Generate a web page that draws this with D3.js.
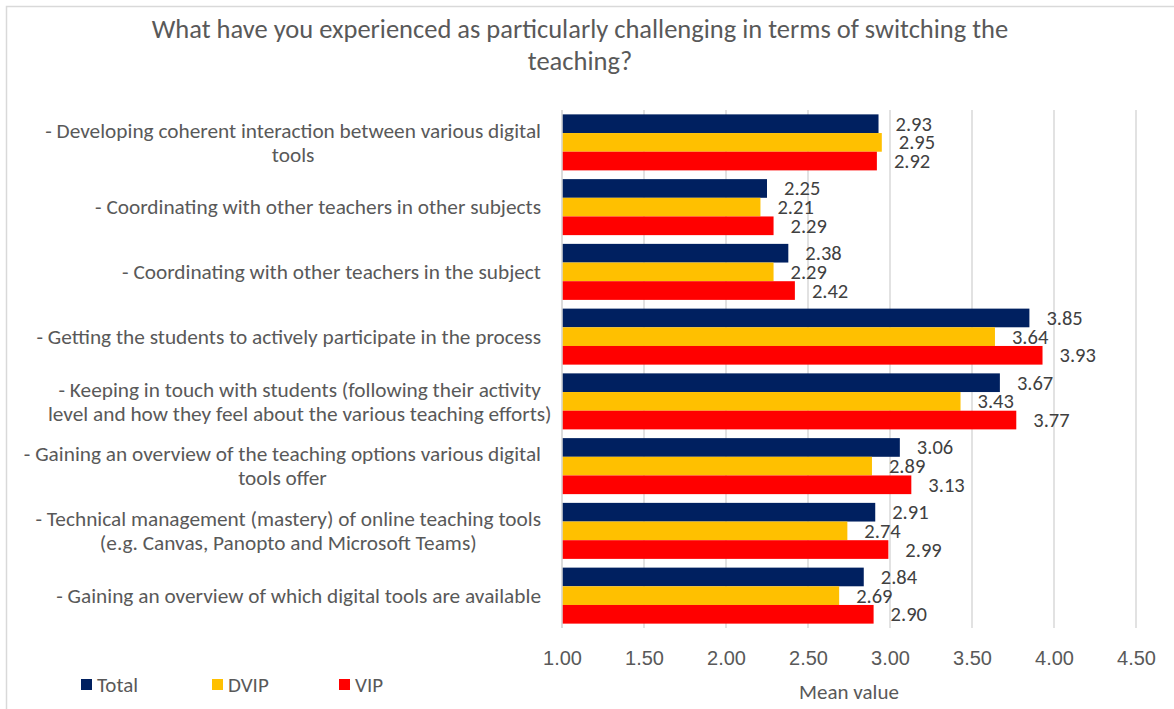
<!DOCTYPE html>
<html>
<head>
<meta charset="utf-8">
<script src="https://cdn.jsdelivr.net/npm/d3@7"></script>
<style>
  html, body { margin: 0; padding: 0; background: #fff; }
  svg { display: block; font-family: Calibri, Carlito, "Open Sans", sans-serif; }
</style>
</head>
<body>
<svg id="chart" width="1174" height="709"></svg>
<script>
const categories = [
  ["- Developing coherent interaction between various digital", "tools"],
  ["- Coordinating with other teachers in other subjects"],
  ["- Coordinating with other teachers in the subject"],
  ["- Getting the students to actively participate in the process"],
  ["- Keeping in touch with students (following their activity", "level and how they feel about the various teaching efforts)"],
  ["- Gaining an overview of the teaching options various digital", "tools offer"],
  ["- Technical management (mastery) of online teaching tools", "(e.g. Canvas, Panopto and Microsoft Teams)"],
  ["- Gaining an overview of which digital tools are available"]
];
const seriesNames = ["Total", "DVIP", "VIP"];
const totalValues = [2.93, 2.25, 2.38, 3.85, 3.67, 3.06, 2.91, 2.84];
const dvipValues  = [2.95, 2.21, 2.29, 3.64, 3.43, 2.89, 2.74, 2.69];
const vipValues   = [2.92, 2.29, 2.42, 3.93, 3.77, 3.13, 2.99, 2.90];
const tickValues = [1.00, 1.50, 2.00, 2.50, 3.00, 3.50, 4.00, 4.50];
const titleLines = ["What have you experienced as particularly challenging in terms of switching the", "teaching?"];
const xAxisTitle = "Mean value";

const colors = ["#002060", "#FFC000", "#FF0000"];
const seriesValues = [totalValues, dvipValues, vipValues];

const svg = d3.select("#chart");
const textColor = "#595959";

// chart frame
svg.append("rect").attr("x", 6.5).attr("y", 6.5).attr("width", 1200).attr("height", 750)
  .attr("fill", "#fff").attr("stroke", "#d9d9d9").attr("stroke-width", 1.5);

// title
svg.append("g").selectAll("text").data(titleLines).join("text")
  .attr("x", 580).attr("y", (d, i) => 38 + i * 32)
  .attr("text-anchor", "middle").attr("fill", textColor)
  .style("font-size", "26.5px").text(d => d);

const plot = { left: 562, right: 1136, top: 110, bottom: 628 };
const x = d3.scaleLinear().domain([1, 4.5]).range([plot.left, plot.right]);
const y0 = d3.scaleBand().domain(d3.range(categories.length)).range([plot.top, plot.bottom]).paddingInner(0.135).paddingOuter(0.0675);
const y1 = d3.scaleBand().domain(d3.range(seriesNames.length)).range([0, y0.bandwidth()]);

// gridlines
svg.append("g").selectAll("line").data(tickValues).join("line")
  .attr("x1", d => x(d)).attr("x2", d => x(d))
  .attr("y1", plot.top).attr("y2", plot.bottom)
  .attr("stroke", "#d9d9d9").attr("stroke-width", 1.5);

// x axis tick labels
const xAxis = d3.axisBottom(x).tickValues(tickValues).tickFormat(d3.format(".2f")).tickSize(0).tickPadding(0);
const gx = svg.append("g").attr("transform", `translate(0, ${plot.bottom})`).call(xAxis);
gx.select(".domain").remove();
gx.selectAll("text").attr("fill", textColor).attr("y", 37).attr("dy", 0)
  .style("font-size", "20px").style("font-family", null);

svg.append("text").attr("x", x(2.75)).attr("y", 699).attr("text-anchor", "middle")
  .attr("fill", textColor).style("font-size", "21px").text(xAxisTitle);

// bars
const data = [];
categories.forEach((c, i) => seriesValues.forEach((vals, s) => data.push({ i, s, v: vals[i] })));

svg.append("g").selectAll("rect").data(data).join("rect")
  .attr("x", x(1)).attr("y", d => y0(d.i) + y1(d.s))
  .attr("width", d => x(d.v) - x(1)).attr("height", y1.bandwidth())
  .attr("fill", d => colors[d.s]);

// data labels
svg.append("g").selectAll("text").data(data).join("text")
  .attr("x", d => x(d.v) + 17).attr("y", d => y0(d.i) + y1(d.s) + y1.bandwidth() / 2)
  .attr("dy", "0.34em").attr("fill", "#404040")
  .style("font-size", "20.5px").text(d => d3.format(".2f")(d.v));

// category labels
const catG = svg.append("g").selectAll("text").data(categories).join("text")
  .attr("text-anchor", "end").attr("fill", textColor).style("font-size", "21.3px")
  .attr("y", (d, i) => y0(i) + y0.bandwidth() / 2);
catG.each(function(lines) {
  const t = d3.select(this);
  const n = lines.length;
  lines.forEach((ln, k) => {
    t.append("tspan").attr("x", 541).attr("dy", k === 0 ? `${0.34 - (n - 1) * 0.56}em` : "1.12em").text(ln);
  });
  if (n === 2) {
    // second line is centered under the first
    const first = t.select("tspan").node();
    const w = first.getComputedTextLength();
    const center = 541 - w / 2;
    t.selectAll("tspan").filter((d, k) => k === 1)
      .attr("x", function() { return center + this.getComputedTextLength() / 2; });
  }
});

// vertical axis line at 1.00
svg.append("line").attr("x1", x(1)).attr("x2", x(1)).attr("y1", plot.top).attr("y2", plot.bottom)
  .attr("stroke", "#d9d9d9").attr("stroke-width", 1.5);

// legend
const legendX = [81, 212, 339];
const lg = svg.append("g").selectAll("g").data(seriesNames).join("g")
  .attr("transform", (d, i) => `translate(${legendX[i]}, 679)`);
lg.append("rect").attr("width", 11).attr("height", 11).attr("fill", (d, i) => colors[i]);
lg.append("text").attr("x", 16).attr("y", 5.5).attr("dy", "0.34em")
  .attr("fill", textColor).style("font-size", "21px").text(d => d);
</script>
</body>
</html>
